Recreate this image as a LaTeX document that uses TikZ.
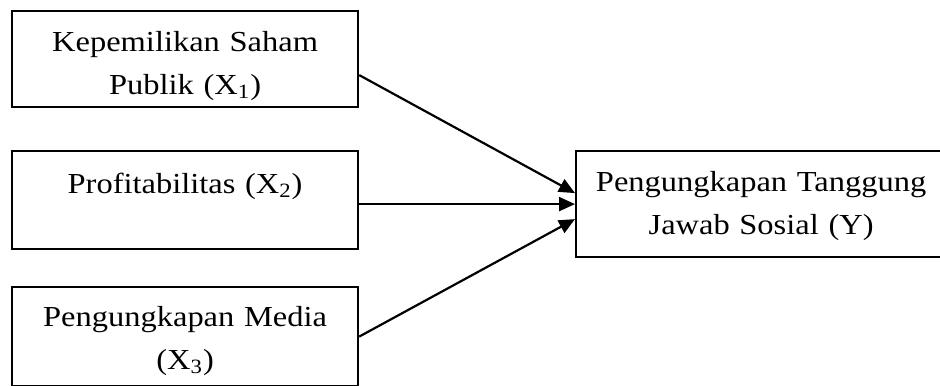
\documentclass[tikz,border=0pt]{standalone}
\usepackage{fontspec}
\setmainfont{Liberation Serif}[FakeStretch=1.12]
\usetikzlibrary{arrows.meta}

\tikzset{
  varbox/.style={draw, line width=1.1pt, inner sep=0pt, anchor=north west,
    align=center, font=\fontsize{14.5pt}{21.5pt}\selectfont},
  link/.style={line width=1.1pt, -{Triangle[length=8pt,width=7pt]}}
}

\begin{document}
\begin{tikzpicture}[x=0.5pt,y=-0.5pt]
\clip (0,0) rectangle (940,385);
% Variables X
\node[varbox, text width=173pt, text height=20pt, text depth=28pt] (x1) at (11,10)
  {Kepemilikan Saham\\Publik (X\textsubscript{1})};
\node[varbox, text width=173pt, text height=21pt, text depth=28pt] (x2) at (11,150)
  {Profitabilitas (X\textsubscript{2})};
\node[varbox, text width=173pt, text height=19.5pt, text depth=30pt] (x3) at (11,286)
  {Pengungkapan Media\\(X\textsubscript{3})};
% Variable Y
\node[varbox, text width=185pt, text height=20pt, text depth=33pt] (y) at (575,150)
  {Pengungkapan Tanggung\\Jawab Sosial (Y)};
% Arrows
\draw[link] ([yshift=-8pt]x1.east) -- ([yshift=5.5pt]y.west);
\draw[link] (x2.east |- y.west) -- (y.west);
\draw[link] (x3.east) -- ([yshift=-7.5pt]y.west);
\end{tikzpicture}
\end{document}
